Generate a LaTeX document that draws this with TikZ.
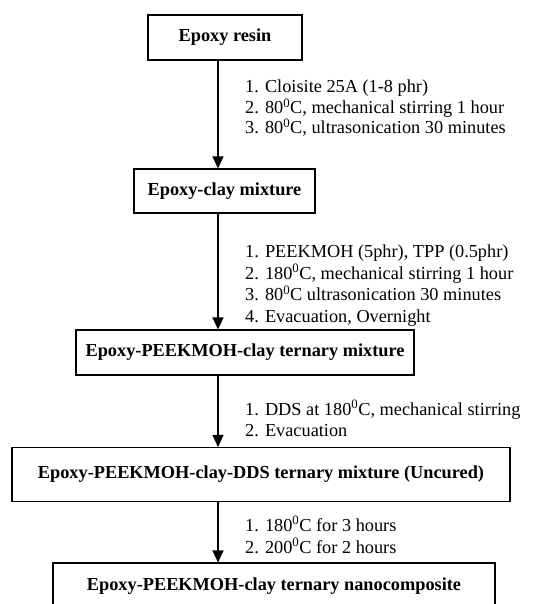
\documentclass[tikz,border=0pt]{standalone}
\usepackage{fontspec}
\setmainfont{Liberation Serif}
\usetikzlibrary{arrows.meta}
\begin{document}
\begin{tikzpicture}[x=1pt,y=-1pt,
  box/.style={draw,line width=1.1pt,inner sep=0pt,font=\fontsize{18.3}{21}\selectfont\bfseries},
  flow/.style={line width=1.1pt,-{Triangle[width=11pt,length=12pt]}},
  steps/.style={anchor=base west,align=left,inner sep=0pt}]
\useasboundingbox (0,0) rectangle (555,604);
\clip (0,0) rectangle (555,604);
\node[box,minimum width=154pt,minimum height=45pt] (b1) at (225,37.5) {Epoxy resin};
\node[box,minimum width=181pt,minimum height=44pt] (b2) at (224.5,191) {Epoxy-clay mixture};
\node[box,minimum width=338pt,minimum height=45pt] (b3) at (245,352.5) {Epoxy-PEEKMOH-clay ternary mixture};
\node[box,minimum width=498pt,minimum height=54pt] (b4) at (261,474.5) {Epoxy-PEEKMOH-clay-DDS ternary mixture (Uncured)};
\node[box,minimum width=442pt,minimum height=46pt] (b5) at (274,586) {Epoxy-PEEKMOH-clay ternary nanocomposite};
\coordinate (ax) at (218,0);
\draw[flow] (b1.south -| ax) -- (b2.north -| ax);
\draw[flow] (b2.south -| ax) -- (b3.north -| ax);
\draw[flow] (b3.south -| ax) -- (b4.north -| ax);
\draw[flow] (b4.south -| ax) -- (b5.north -| ax);
\node[steps,font=\fontsize{18.3}{20.5}\selectfont] (s1) at (245,134) {1. Cloisite 25A (1-8 phr)\\2. 80\textsuperscript{0}C, mechanical stirring 1 hour\\3. 80\textsuperscript{0}C, ultrasonication 30 minutes};
\node[steps,font=\fontsize{18.3}{21.5}\selectfont] (s2) at (245,322) {1. PEEKMOH (5phr), TPP (0.5phr)\\2. 180\textsuperscript{0}C, mechanical stirring 1 hour\\3. 80\textsuperscript{0}C ultrasonication 30 minutes\\4. Evacuation, Overnight};
\node[steps,font=\fontsize{18.3}{21}\selectfont] (s3) at (245,436) {1. DDS at 180\textsuperscript{0}C, mechanical stirring\\2. Evacuation};
\node[steps,font=\fontsize{18.3}{22}\selectfont] (s4) at (245,553) {1. 180\textsuperscript{0}C for 3 hours\\2. 200\textsuperscript{0}C for 2 hours};
\end{tikzpicture}
\end{document}
